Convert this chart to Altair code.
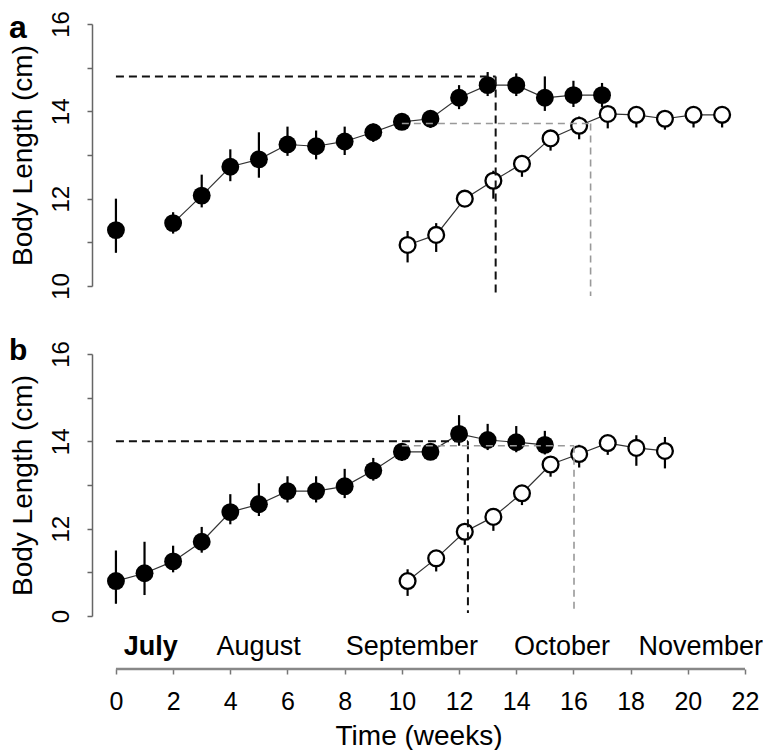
import altair as alt
import pandas as pd

# ---------------- Panel a ----------------
a_filled_week = [0, 2, 3, 4, 5, 6, 7, 8, 9, 10, 11, 12, 13, 14, 15, 16, 17]
a_filled_mean = [11.28, 11.44, 12.07, 12.73, 12.90, 13.24, 13.20, 13.31, 13.52, 13.76, 13.83, 14.31, 14.60, 14.60, 14.31, 14.37, 14.37]
a_filled_hi = [12.00, 11.69, 12.55, 13.13, 13.52, 13.65, 13.56, 13.65, 13.72, 13.90, 14.00, 14.60, 14.90, 14.87, 14.80, 14.70, 14.65]
a_filled_lo = [10.76, 11.20, 11.80, 12.40, 12.48, 12.98, 12.90, 13.00, 13.30, 13.60, 13.62, 14.05, 14.35, 14.35, 14.01, 14.10, 14.10]

a_open_week = [10.2, 11.2, 12.2, 13.2, 14.2, 15.2, 16.2, 17.2, 18.2, 19.2, 20.2, 21.2]
a_open_mean = [10.94, 11.17, 12.00, 12.41, 12.80, 13.38, 13.67, 13.94, 13.92, 13.83, 13.92, 13.92]
a_open_hi = [11.26, 11.44, 12.12, 12.64, 13.00, 13.55, 13.88, 14.10, 14.10, 14.00, 14.10, 14.10]
a_open_lo = [10.54, 10.78, 11.88, 12.00, 12.50, 13.10, 13.36, 13.61, 13.63, 13.58, 13.63, 13.63]

# dashed reference lines (segments from (x1,y1) to (x2,y2))
a_black_x1 = [0.0, 13.28]
a_black_x2 = [13.28, 13.28]
a_black_y1 = [14.80, 14.80]
a_black_y2 = [14.80, 9.77]
a_gray_x1 = [10.0, 16.60]
a_gray_x2 = [16.60, 16.60]
a_gray_y1 = [13.72, 13.72]
a_gray_y2 = [13.72, 9.77]

# ---------------- Panel b ----------------
b_filled_week = [0, 1, 2, 3, 4, 5, 6, 7, 8, 9, 10, 11, 12, 13, 14, 15]
b_filled_mean = [10.80, 10.98, 11.25, 11.70, 12.38, 12.56, 12.86, 12.86, 12.97, 13.33, 13.76, 13.76, 14.17, 14.03, 13.98, 13.92]
b_filled_hi = [11.50, 11.70, 11.61, 12.04, 12.79, 13.04, 13.20, 13.20, 13.37, 13.62, 13.95, 13.90, 14.60, 14.40, 14.35, 14.24]
b_filled_lo = [10.28, 10.48, 11.00, 11.45, 12.10, 12.29, 12.60, 12.60, 12.70, 13.10, 13.55, 13.60, 13.90, 13.80, 13.75, 13.70]

b_open_week = [10.2, 11.2, 12.2, 13.2, 14.2, 15.2, 16.2, 17.2, 18.2, 19.2]
b_open_mean = [10.80, 11.32, 11.93, 12.27, 12.81, 13.47, 13.71, 13.96, 13.85, 13.78]
b_open_hi = [11.07, 11.50, 12.10, 12.40, 13.00, 13.60, 13.92, 14.10, 14.14, 14.10]
b_open_lo = [10.46, 11.02, 11.63, 11.95, 12.54, 13.19, 13.40, 13.69, 13.44, 13.38]

b_black_x1 = [0.0, 12.31]
b_black_x2 = [12.31, 12.31]
b_black_y1 = [14.00, 14.00]
b_black_y2 = [14.00, 10.07]
b_gray_x1 = [10.0, 16.02]
b_gray_x2 = [16.02, 16.02]
b_gray_y1 = [13.90, 13.90]
b_gray_y2 = [13.90, 10.07]

# ---------------- Bottom axis annotations ----------------
month_names = ["July", "August", "September", "October", "November"]
month_pos = [1.22, 4.99, 10.35, 15.6, 20.45]
month_bold = [True, False, False, False, False]
x_tick_values = list(range(0, 23, 2))
x_axis_span = [0, 22]
y_tick_values = [10, 11, 12, 13, 14, 15, 16]

W = 653
H = 262
AX_OFF = 53
FONT = "Liberation Sans"

xscale = alt.Scale(domain=[-0.837, 22], nice=False, zero=False)
yscale = alt.Scale(domain=[10, 16], nice=False, zero=False)

xaxis_b = alt.Axis(values=x_tick_values, offset=AX_OFF, domain=False, grid=False,
                   tickSize=5, tickWidth=1.5, tickColor="#777",
                   labelFontSize=25, labelPadding=15, labelAngle=0,
                   labelFlush=False, labelOverlap=False, labelColor="black",
                   titleFontSize=28, titlePadding=8, titleFontWeight="normal",
                   titleColor="black")


def yaxis(expr):
    return alt.Axis(values=y_tick_values, labelExpr=expr, labelAngle=270,
                    labelFontSize=24, labelPadding=14, labelOverlap=False,
                    labelColor="black", tickSize=5, tickWidth=1.5,
                    tickColor="#666", domainColor="#666", domainWidth=1.5,
                    grid=False, titleFontSize=28, titlePadding=12,
                    titleFontWeight="normal", titleColor="black")


def series(week, mean, lo, hi):
    return pd.DataFrame({"week": week, "mean": mean, "lo": lo, "hi": hi})


def segs(x1, x2, y1, y2):
    return pd.DataFrame({"x1": x1, "x2": x2, "y1": y1, "y2": y2})


def panel(filled, opened, black, gray, letter, letter_y, letter_size, ylabel_expr,
          show_x, skip_first_gap):
    xax = xaxis_b if show_x else None

    def X(field):
        return alt.X(field, scale=xscale, axis=xax, title="Time (weeks)")

    def Y(field):
        return alt.Y(field, scale=yscale, axis=yaxis(ylabel_expr),
                     title="Body Length (cm)")

    layers = []
    # error bars
    for df in (filled, opened):
        layers.append(alt.Chart(df).mark_rule(color="black", strokeWidth=2.2).encode(
            x=X("week:Q"), y=Y("lo:Q"), y2="hi:Q"))
    # connecting lines
    fl = alt.Chart(filled).mark_line(color="#333", strokeWidth=1.2)
    if skip_first_gap:
        fl = fl.transform_filter(alt.datum.week >= 1)
    layers.append(fl.encode(x=X("week:Q"), y=Y("mean:Q")))
    layers.append(alt.Chart(opened).mark_line(color="#333", strokeWidth=1.2).encode(
        x=X("week:Q"), y=Y("mean:Q")))
    # points
    layers.append(alt.Chart(filled).mark_circle(size=320, color="black", opacity=1).encode(
        x=X("week:Q"), y=Y("mean:Q")))
    layers.append(alt.Chart(opened).mark_circle(size=250, color="white", opacity=1,
                                                stroke="black", strokeWidth=2.3).encode(
        x=X("week:Q"), y=Y("mean:Q")))
    # dashed reference lines
    layers.append(alt.Chart(black).mark_rule(color="#111", strokeWidth=2,
                                             strokeDash=[8, 5]).encode(
        x=X("x1:Q"), x2="x2:Q", y=Y("y1:Q"), y2="y2:Q"))
    layers.append(alt.Chart(gray).mark_rule(color="#999", strokeWidth=1.6,
                                            strokeDash=[7, 5]).encode(
        x=X("x1:Q"), x2="x2:Q", y=Y("y1:Q"), y2="y2:Q"))
    # panel letter
    layers.append(alt.Chart(pd.DataFrame({"label": [letter]})).mark_text(
        fontSize=letter_size, fontWeight="bold", align="left", baseline="top",
        color="black").encode(x=alt.value(-83), y=alt.value(letter_y), text="label:N"))

    if show_x:
        months = pd.DataFrame({"name": month_names, "pos": month_pos, "bold": month_bold})
        layers.append(alt.Chart(months).transform_filter(alt.datum.bold).mark_text(
            fontSize=27, fontWeight="bold", align="center", baseline="alphabetic",
            color="black").encode(x=X("pos:Q"), y=alt.value(H + AX_OFF - 14), text="name:N"))
        layers.append(alt.Chart(months).transform_filter(~alt.datum.bold).mark_text(
            fontSize=27, align="center", baseline="alphabetic",
            color="black").encode(x=X("pos:Q"), y=alt.value(H + AX_OFF - 14), text="name:N"))
        span = pd.DataFrame({"start": [x_axis_span[0]], "end": [x_axis_span[1]]})
        layers.append(alt.Chart(span).mark_rule(color="#888", strokeWidth=2.5).encode(
            x=X("start:Q"), x2="end:Q", y=alt.value(H + AX_OFF)))

    return alt.layer(*layers).properties(width=W, height=H)


panel_a = panel(series(a_filled_week, a_filled_mean, a_filled_lo, a_filled_hi),
                series(a_open_week, a_open_mean, a_open_lo, a_open_hi),
                segs(a_black_x1, a_black_x2, a_black_y1, a_black_y2),
                segs(a_gray_x1, a_gray_x2, a_gray_y1, a_gray_y2),
                "a", -11.5, 32,
                "datum.value % 2 == 0 ? datum.label : ''",
                False, True)

panel_b = panel(series(b_filled_week, b_filled_mean, b_filled_lo, b_filled_hi),
                series(b_open_week, b_open_mean, b_open_lo, b_open_hi),
                segs(b_black_x1, b_black_x2, b_black_y1, b_black_y2),
                segs(b_gray_x1, b_gray_x2, b_gray_y1, b_gray_y2),
                "b", -18, 30,
                "datum.value == 10 ? '0' : (datum.value % 2 == 0 ? datum.label : '')",
                True, False)

chart = alt.vconcat(panel_a, panel_b, spacing=68, bounds="flush").properties(
    padding={"left": 1, "top": 2, "right": 0, "bottom": 0}
).configure(font=FONT).configure_view(stroke=None)

chart.save("out.html", embed_options={"renderer": "svg", "actions": False})
